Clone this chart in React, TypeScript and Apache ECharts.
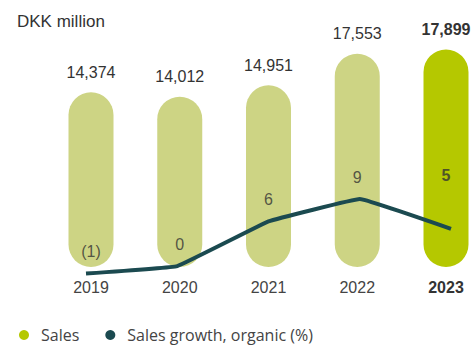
import { useEffect, useRef } from "react";
import * as echarts from "echarts";

const years = ["2019", "2020", "2021", "2022", "2023"];
const sales = [14374, 14012, 14951, 17553, 17899];
const growth = [-1, 0, 6, 9, 5];
const growthText = ["(1)", "0", "6", "9", "5"];

const LIGHT = "#cdd484";
const BRIGHT = "#b5c800";
const LINE = "#1b4a50";
const TEXT = "#333333";
const FONT = "Liberation Sans";

export default function App() {
  const ref = useRef<HTMLDivElement>(null);

  useEffect(() => {
    document.body.style.margin = "0";
    const chart = echarts.init(ref.current!, null, { renderer: "svg" });
    const last = years.length - 1;

    chart.setOption({
      animation: false,
      title: {
        text: "DKK million",
        left: 12,
        top: 8,
        textStyle: { fontFamily: FONT, fontSize: 17, fontWeight: "normal", color: TEXT },
      },
      legend: {
        left: 14,
        top: 322,
        icon: "circle",
        itemWidth: 24,
        itemHeight: 10,
        itemGap: 26,
        data: ["Sales", "Sales growth, organic (%)"],
        textStyle: { fontFamily: "Open Sans", fontSize: 16, color: "#444" },
      },
      grid: [
        { left: 91, right: 26, top: 30, bottom: 78 },
        { left: 86, right: 21, top: 117, bottom: 64 },
        { left: 91, right: 26, top: 117, bottom: 64 },
      ],
      xAxis: [
        {
          gridIndex: 0,
          type: "category",
          data: years,
          boundaryGap: false,
          axisLine: { show: false },
          axisTick: { show: false },
          axisLabel: {
            interval: 0,
            margin: 12,
            fontFamily: FONT,
            fontSize: 16,
            color: "#444",
            formatter: (v: string, i: number) => (i === last ? `{b|${v}}` : v),
            rich: { b: { fontFamily: FONT, fontSize: 16, fontWeight: "bold", color: TEXT } },
          },
        },
        { gridIndex: 1, type: "category", data: years, boundaryGap: false, show: false },
        { gridIndex: 2, type: "category", data: years, boundaryGap: false, show: false },
      ],
      yAxis: [
        { gridIndex: 0, type: "value", min: 0, max: 19500, show: false },
        { gridIndex: 1, type: "value", min: -2, max: 20, show: false },
        { gridIndex: 2, type: "value", min: -2, max: 20, show: false },
      ],
      series: [
        {
          name: "Sales",
          type: "bar",
          xAxisIndex: 0,
          yAxisIndex: 0,
          barWidth: 45,
          clip: false,
          itemStyle: { color: BRIGHT, borderRadius: 22.5 },
          label: {
            show: true,
            position: "top",
            distance: 12,
            fontFamily: FONT,
            fontSize: 16,
            color: TEXT,
            formatter: (p: any) => Number(p.value).toLocaleString("en-US"),
          },
          data: sales.map((v, i) => ({
            value: v,
            itemStyle: { color: i === last ? BRIGHT : LIGHT, borderRadius: 22.5 },
            label: i === last ? { fontWeight: "bold" } : {},
          })),
        },
        {
          name: "Sales growth, organic (%)",
          type: "line",
          xAxisIndex: 1,
          yAxisIndex: 1,
          data: growth,
          smooth: 0.06,
          clip: false,
          symbol: "none",
          itemStyle: { color: LINE },
          lineStyle: { color: LINE, width: 4, join: "round" },
        },
        {
          name: "growthLabels",
          type: "scatter",
          xAxisIndex: 2,
          yAxisIndex: 2,
          symbol: "circle",
          symbolSize: 2,
          itemStyle: { color: "rgba(0,0,0,0)" },
          silent: true,
          label: {
            show: true,
            position: "top",
            distance: 13,
            fontFamily: FONT,
            fontSize: 16,
            color: TEXT,
            formatter: (p: any) => growthText[p.dataIndex],
          },
          data: growth.map((v, i) => ({
            value: v,
            label: i === last ? { fontWeight: "bold", offset: [0, -31] } : {},
          })),
        },
      ],
    });

    return () => chart.dispose();
  }, []);

  return <div ref={ref} style={{ width: 472, height: 345 }} />;
}
